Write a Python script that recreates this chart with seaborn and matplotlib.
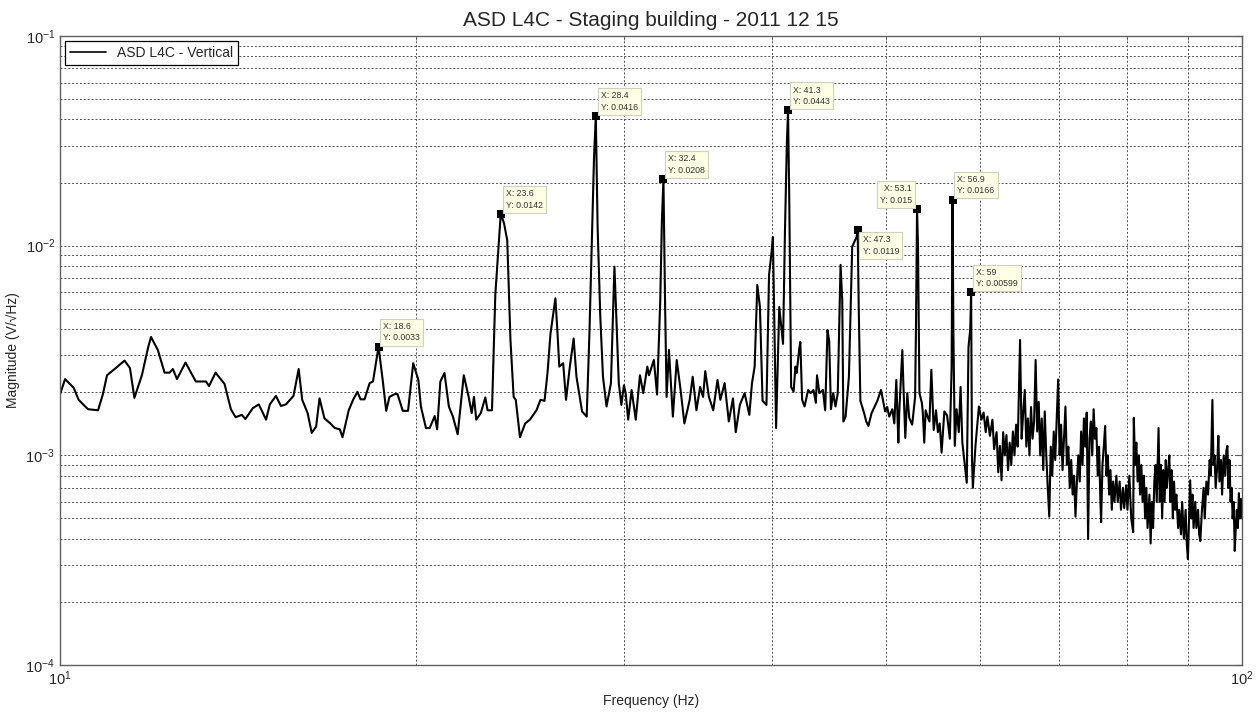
import matplotlib
matplotlib.use("Agg")
import matplotlib.pyplot as plt
import seaborn as sns
import pandas as pd
from matplotlib.ticker import LogLocator, NullFormatter

# ---------------- data ----------------
freq_lo = [10.0, 10.1, 10.27, 10.37, 10.56, 10.77, 10.87, 10.96, 11.15, 11.34, 11.46, 11.56, 11.73,
           11.87, 11.94, 12.1, 12.26, 12.38, 12.46, 12.56, 12.77, 13.03, 13.29, 13.37, 13.54, 13.78,
           13.95, 14.08, 14.25, 14.35, 14.56, 14.73, 14.94, 15.05, 15.23, 15.38, 15.53, 15.76, 15.92,
           16.03, 16.2, 16.33, 16.47, 16.58, 16.74, 16.91, 17.08, 17.25, 17.34, 17.55, 17.7, 17.85,
           17.96, 18.1, 18.28, 18.4, 18.6, 18.75, 18.88, 19.0, 19.2, 19.3, 19.5, 19.7, 19.9, 20.1,
           20.2, 20.4, 20.55, 20.75, 20.85, 20.98, 21.15, 21.33, 21.5, 21.7, 21.96, 22.17, 22.3, 22.4,
           22.5, 22.7, 22.9, 23.0, 23.2, 23.35, 23.6, 23.75, 23.9, 24.05, 24.2, 24.3, 24.5, 24.75,
           24.98, 25.3, 25.5, 25.7, 25.85]
mag_lo = [1.95e-3, 2.31e-3, 2.1e-3, 1.84e-3, 1.66e-3, 1.64e-3, 1.95e-3, 2.41e-3, 2.61e-3, 2.83e-3,
          2.61e-3, 1.88e-3, 2.41e-3, 3.25e-3, 3.67e-3, 3.18e-3, 2.48e-3, 2.48e-3, 2.58e-3, 2.31e-3,
          2.77e-3, 2.25e-3, 2.25e-3, 2.14e-3, 2.48e-3, 2.19e-3, 1.66e-3, 1.52e-3, 1.56e-3, 1.49e-3,
          1.68e-3, 1.75e-3, 1.48e-3, 1.75e-3, 1.92e-3, 1.72e-3, 1.75e-3, 1.92e-3, 2.58e-3,
          1.84e-3, 1.59e-3, 1.28e-3, 1.37e-3, 1.87e-3, 1.50e-3, 1.43e-3, 1.35e-3, 1.33e-3, 1.22e-3,
          1.64e-3, 1.84e-3, 2.01e-3, 1.85e-3, 1.85e-3, 2.21e-3, 2.25e-3, 3.3e-3, 2.29e-3, 1.63e-3,
          1.90e-3, 1.96e-3, 1.96e-3, 1.63e-3, 1.63e-3, 2.75e-3, 2.29e-3, 1.71e-3, 1.35e-3, 1.35e-3,
          1.54e-3, 1.33e-3, 2.25e-3, 2.47e-3, 1.71e-3, 1.53e-3, 1.26e-3, 2.41e-3, 1.90e-3, 1.59e-3,
          1.90e-3, 1.48e-3, 1.59e-3, 1.89e-3, 1.64e-3, 1.64e-3, 5.82e-3, 1.42e-2, 1.28e-2, 1.06e-2,
          3.55e-3, 1.90e-3, 1.84e-3, 1.22e-3, 1.42e-3, 1.48e-3, 1.64e-3, 1.84e-3, 1.82e-3, 2.47e-3]

freq_mid = [26.0, 26.25, 26.35, 26.45, 26.65, 26.8, 27.0, 27.2, 27.35, 27.65, 27.9, 28.05, 28.2, 28.3,
            28.4, 28.5, 28.65, 28.8, 29.0, 29.25, 29.45, 29.55, 29.7, 29.85, 30.0, 30.1, 30.25, 30.45,
            30.7, 30.95, 31.15, 31.4, 31.5, 31.8, 32.0, 32.2, 32.3, 32.4, 32.5, 32.6, 32.75, 33.0,
            33.25, 33.5, 33.75, 34.1, 34.3, 34.55, 34.8, 35.0, 35.15, 35.4, 35.7, 36.0, 36.2, 36.5,
            36.8, 37.1, 37.3, 37.6, 37.95, 38.3, 38.5, 38.7, 38.9, 39.1, 39.3, 39.6, 39.8, 40.0, 40.1,
            40.35, 40.6, 40.9, 41.05, 41.2, 41.3, 41.4, 41.55, 41.75, 41.9, 42.0, 42.2, 42.3, 42.45,
            42.65, 42.95, 43.15, 43.4, 43.6, 43.7, 43.9, 44.2, 44.4, 44.6, 44.75, 44.9, 45.1, 45.3,
            45.5, 45.75, 45.9, 46.0, 46.2, 46.5, 46.8, 47.2, 47.3, 47.4, 47.55, 47.9, 48.1, 48.3,
            48.6, 48.9, 49.15, 49.5, 49.7, 49.9, 50.1, 50.3, 50.6, 50.8, 51.0, 51.2, 51.3, 51.6, 51.7,
            51.9, 52.1, 52.3, 52.6, 52.9, 53.0, 53.1, 53.2, 53.35, 53.6, 53.7, 53.85, 54.0, 54.2,
            54.4, 54.6, 54.85, 55.1, 55.3, 55.5, 55.7, 56.0, 56.3, 56.6, 56.8, 56.9, 57.0, 57.15,
            57.35, 57.6, 57.8, 58.0, 58.3, 58.5, 58.7, 58.9, 59.0, 59.1, 59.2, 59.5, 59.7, 59.9,
            60.2, 60.45, 60.7, 60.9, 61.2, 61.5, 61.7, 62.0, 62.2, 62.4, 62.6, 62.8]
mag_mid = [3.8e-3, 5.61e-3, 3.96e-3, 2.65e-3, 2.75e-3, 1.84e-3, 2.65e-3, 3.61e-3, 2.37e-3, 1.62e-3,
           1.53e-3, 3.82e-3, 1.23e-2, 2.6e-2, 4.16e-2, 1.23e-2, 4.58e-3, 2.37e-3, 1.71e-3, 2.21e-3,
           7.94e-3, 4.78e-3, 2.21e-3, 1.74e-3, 2.16e-3, 1.98e-3, 1.48e-3, 2.05e-3, 1.48e-3, 2.41e-3,
           1.98e-3, 2.65e-3, 2.41e-3, 2.85e-3, 1.95e-3, 5.5e-3, 1.3e-2, 2.08e-2, 5.5e-3, 1.90e-3,
           3.18e-3, 1.53e-3, 2.85e-3, 2.05e-3, 1.42e-3, 1.84e-3, 2.37e-3, 1.64e-3, 2.12e-3, 1.90e-3,
           2.52e-3, 1.90e-3, 1.64e-3, 2.29e-3, 1.84e-3, 2.21e-3, 1.45e-3, 1.87e-3, 1.29e-3, 1.74e-3,
           1.98e-3, 1.56e-3, 2.21e-3, 2.65e-3, 6.5e-3, 5.1e-3, 1.82e-3, 1.74e-3, 7.24e-3, 9.36e-3,
           1.1e-2, 1.35e-3, 5.1e-3, 3.4e-3, 1.14e-2, 3.0e-2, 4.43e-2, 1.65e-2, 2.12e-3, 2.01e-3,
           2.65e-3, 2.47e-3, 3.18e-3, 3.48e-3, 1.84e-3, 1.71e-3, 2.05e-3, 1.98e-3, 2.05e-3, 1.78e-3,
           2.41e-3, 1.98e-3, 2.05e-3, 1.64e-3, 3.96e-3, 3.5e-3, 1.66e-3, 1.98e-3, 1.71e-3, 1.98e-3,
           8.1e-3, 5.5e-3, 1.45e-3, 1.53e-3, 2.37e-3, 9.9e-3, 1.1e-2, 1.19e-2, 5.0e-3, 1.82e-3,
           1.59e-3, 1.45e-3, 1.38e-3, 1.59e-3, 1.71e-3, 1.82e-3, 2.05e-3, 1.82e-3, 1.62e-3, 1.7e-3,
           1.53e-3, 1.66e-3, 1.42e-3, 2.29e-3, 1.15e-3, 1.64e-3, 3.18e-3, 2.21e-3, 1.21e-3, 1.98e-3,
           1.51e-3, 1.4e-3, 1.9e-3, 4.5e-3, 1.5e-2, 9.9e-3, 1.98e-3, 1.78e-3, 1.6e-3, 1.15e-3,
           1.64e-3, 1.53e-3, 1.45e-3, 2.56e-3, 1.32e-3, 1.64e-3, 1.29e-3, 1.42e-3, 1.03e-3, 1.62e-3,
           1.55e-3, 1.2e-3, 2.6e-3, 1.66e-2, 3.8e-3, 1.11e-3, 1.66e-3, 1.29e-3, 2.12e-3, 1.15e-3,
           8.85e-4, 7.4e-4, 3.3e-3, 4.0e-3, 5.99e-3, 9.5e-4, 7.0e-4, 1.11e-3, 1.38e-3, 1.71e-3,
           1.48e-3, 1.6e-3, 1.29e-3, 1.53e-3, 1.24e-3, 1.48e-3, 1.07e-3, 1.29e-3, 8.3e-4, 1.11e-3,
           7.6e-4, 1.29e-3]

freq_hi = [63.0, 63.2, 63.4, 63.6, 63.8, 64.0, 64.2, 64.4, 64.6, 64.9, 65.1, 65.3, 65.5, 65.7, 65.9,
           66.1, 66.3, 66.5, 66.7, 66.9, 67.1, 67.3, 67.5, 67.7, 67.9, 68.1, 68.3, 68.5, 68.7, 68.9,
           69.1, 69.3, 69.5, 69.7, 69.9, 70.1, 70.3, 70.5, 70.7, 70.9, 71.1, 71.3, 71.5, 71.7, 71.9,
           72.1, 72.3, 72.5, 72.7, 72.9, 73.1, 73.3, 73.5, 73.7, 73.9, 74.1, 74.3, 74.5, 74.7, 74.9,
           75.1, 75.3, 75.5, 75.7, 75.9, 76.0, 76.2, 76.4, 76.6, 76.8, 77.0, 77.2, 77.4, 77.6, 77.8,
           78.0, 78.3, 78.5, 78.8, 79.0, 79.3, 79.5, 79.8, 80.0, 80.3, 80.6, 80.9, 81.0, 81.2, 81.4,
           81.6, 81.8, 82.0, 82.2, 82.4, 82.6, 82.8, 83.0, 83.2, 83.5, 83.7, 83.9, 84.1, 84.3, 84.5,
           84.7, 85.0, 85.2, 85.4, 85.6, 85.8, 86.0, 86.2, 86.4, 86.6, 86.8, 87.0, 87.2, 87.4, 87.6,
           87.8, 88.0, 88.3, 88.5, 88.8, 89.0, 89.3, 89.6, 89.8, 90.0, 90.2, 90.4, 90.6, 90.8, 91.0,
           91.3, 91.5, 91.8, 92.0, 92.2, 92.5, 92.8, 93.0, 93.3, 93.6, 93.9, 94.1, 94.4, 94.6, 94.8,
           95.0, 95.3, 95.5, 95.7, 96.0, 96.2, 96.5, 96.8, 97.0, 97.2, 97.4, 97.6, 97.8, 98.0, 98.2,
           98.4, 98.6, 98.8, 99.0, 99.2, 99.4, 99.6, 99.8, 100.0]
mag_hi = [1.0e-3, 1.25e-3, 8.5e-4, 1.15e-3, 9e-4, 1.3e-3, 1.0e-3, 1.4e-3, 1.1e-3, 3.55e-3, 1.2e-3,
          1.6e-3, 2.05e-3, 1.1e-3, 1.5e-3, 1.0e-3, 1.7e-3, 1.2e-3, 1.45e-3, 2.85e-3, 1.3e-3, 1.8e-3,
          1.0e-3, 1.5e-3, 8.5e-4, 1.62e-3, 1.0e-3, 7.0e-4, 5.1e-4, 1.1e-3, 8.0e-4, 1.3e-3, 9.5e-4,
          1.5e-3, 2.3e-3, 1.0e-3, 1.4e-3, 8.5e-4, 1.2e-3, 1.71e-3, 9.0e-4, 1.1e-3, 7.0e-4, 9.5e-4,
          6.5e-4, 8.0e-4, 5.1e-4, 7.5e-4, 1.0e-3, 7.5e-4, 1.3e-3, 9.0e-4, 1.5e-3, 1.1e-3, 1.6e-3,
          4.0e-4, 1.2e-3, 1.45e-3, 1.0e-3, 1.66e-3, 1.2e-3, 1.35e-3, 8.0e-4, 1.1e-3, 6.0e-4, 4.8e-4,
          9.0e-4, 1.1e-3, 1.38e-3, 8.0e-4, 1.0e-3, 6.5e-4, 8.5e-4, 5.5e-4, 7.5e-4, 6.0e-4, 8.0e-4,
          6.0e-4, 7.5e-4, 5.5e-4, 7.0e-4, 5.6e-4, 7.2e-4, 5.5e-4, 8.0e-4, 5.0e-4, 4.3e-4, 1.51e-3,
          9.0e-4, 1.15e-3, 7.5e-4, 1.0e-3, 6.5e-4, 9.0e-4, 6.0e-4, 8.0e-4, 5.0e-4, 7.0e-4, 4.5e-4,
          6.5e-4, 3.8e-4, 6.0e-4, 4.5e-4, 7.5e-4, 9.0e-4, 6.0e-4, 1.35e-3, 6.0e-4, 9.0e-4, 5.0e-4,
          8.5e-4, 6.0e-4, 9.5e-4, 7.0e-4, 8.5e-4, 1.0e-3, 6.0e-4, 8.5e-4, 5.0e-4, 7.5e-4, 5.5e-4,
          6.5e-4, 4.5e-4, 5.5e-4, 4.2e-4, 6.0e-4, 4.0e-4, 5.5e-4, 3.8e-4, 3.2e-4, 5.0e-4, 7.6e-4,
          5.0e-4, 6.5e-4, 4.5e-4, 6.0e-4, 4.5e-4, 5.5e-4, 4.2e-4, 3.9e-4, 5.5e-4, 7.0e-4, 5.0e-4,
          7.5e-4, 6.5e-4, 9.5e-4, 8.0e-4, 1.84e-3, 9.0e-4, 1.0e-3, 7.0e-4, 9.0e-4, 1.24e-3, 7.5e-4,
          9.5e-4, 6.5e-4, 1.0e-3, 8.0e-4, 1.05e-3, 1.11e-3, 7.0e-4, 9.5e-4, 6.0e-4, 7.0e-4, 5.0e-4,
          6.0e-4, 3.5e-4, 4.5e-4, 5.5e-4, 4.5e-4, 6.6e-4, 5.0e-4, 6.2e-4, 5.0e-4]

# data tips
tip_x = [18.6, 23.6, 28.4, 32.4, 41.3, 47.3, 53.1, 56.9, 59]
tip_y = [0.0033, 0.0142, 0.0416, 0.0208, 0.0443, 0.0119, 0.015, 0.0166, 0.00599]
tip_side = ["ur", "ur", "ur", "ur", "ur", "lr", "ul", "ur", "ur"]

title = "ASD L4C - Staging building - 2011 12 15"
legend_label = "ASD L4C - Vertical"
xlabel = "Frequency (Hz)"
ylabel = "Magnitude (V/\u221aHz)"

# ---------------- plot ----------------
sns.set_style("white")
plt.rcParams["font.family"] = ["Liberation Sans", "DejaVu Sans"]
plt.rcParams["mathtext.fontset"] = "custom"
plt.rcParams["mathtext.rm"] = "Liberation Sans"
plt.rcParams["mathtext.it"] = "Liberation Sans"

df = pd.DataFrame({"f": freq_lo + freq_mid + freq_hi, "m": mag_lo + mag_mid + mag_hi})

fig = plt.figure(figsize=(12.6, 7.13), dpi=100)
ax = fig.add_axes([0.0476, 0.0673, 0.9381, 0.8822])

sns.lineplot(data=df, x="f", y="m", ax=ax, color="black", linewidth=1.5,
             estimator=None, sort=False, label=legend_label)

ax.set_xscale("log")
ax.set_yscale("log")
ax.set_xlim(10, 100)
ax.set_ylim(1e-4, 1e-1)

ax.xaxis.set_minor_locator(LogLocator(base=10, subs=range(2, 10)))
ax.yaxis.set_minor_locator(LogLocator(base=10, subs=range(2, 10)))
ax.xaxis.set_minor_formatter(NullFormatter())
ax.yaxis.set_minor_formatter(NullFormatter())

ax.grid(True, which="both", linestyle=(0, (2, 2)), color="#505050", linewidth=0.7)
ax.set_axisbelow(True)
for sp in ax.spines.values():
    sp.set_color("#606060")
    sp.set_linewidth(1.0)
ax.tick_params(which="both", direction="in", top=True, right=True, color="#606060",
               labelsize=10.5)
ax.tick_params(which="major", length=5)
ax.tick_params(which="minor", length=3)

# data tip markers and boxes
ax.scatter(tip_x, tip_y, marker="s", s=26, color="black", zorder=5, linewidths=0)
offsets = {"ur": ((3.5, 3.0), "left", "bottom"),
           "ul": ((-3.5, 3.0), "right", "bottom"),
           "lr": ((3.5, -4.0), "left", "top")}
for x, y, side in zip(tip_x, tip_y, tip_side):
    off, ha, va = offsets[side]
    ax.annotate(f"X: {x:g}\nY: {y:g}", xy=(x, y), xytext=off, textcoords="offset points",
                ha=ha, va=va, fontsize=6.3, color="#303030", linespacing=1.35,
                bbox=dict(boxstyle="square,pad=0.35", fc="#FFFFE6", ec="#D0D0C0", lw=0.8),
                zorder=6)

leg = ax.legend(loc="upper left", fontsize=10, frameon=True, fancybox=False,
                borderaxespad=0.35, handlelength=2.6, borderpad=0.35)
leg.get_frame().set_edgecolor("black")
leg.get_frame().set_linewidth(0.9)
leg.get_frame().set_alpha(1)
for line in leg.get_lines():
    line.set_linewidth(1.2)

ax.set_title(title, fontsize=15, pad=7)
ax.set_xlabel(xlabel, fontsize=10)
ax.set_ylabel(ylabel, fontsize=10)

fig.savefig("out.png", dpi=100, facecolor="white")
